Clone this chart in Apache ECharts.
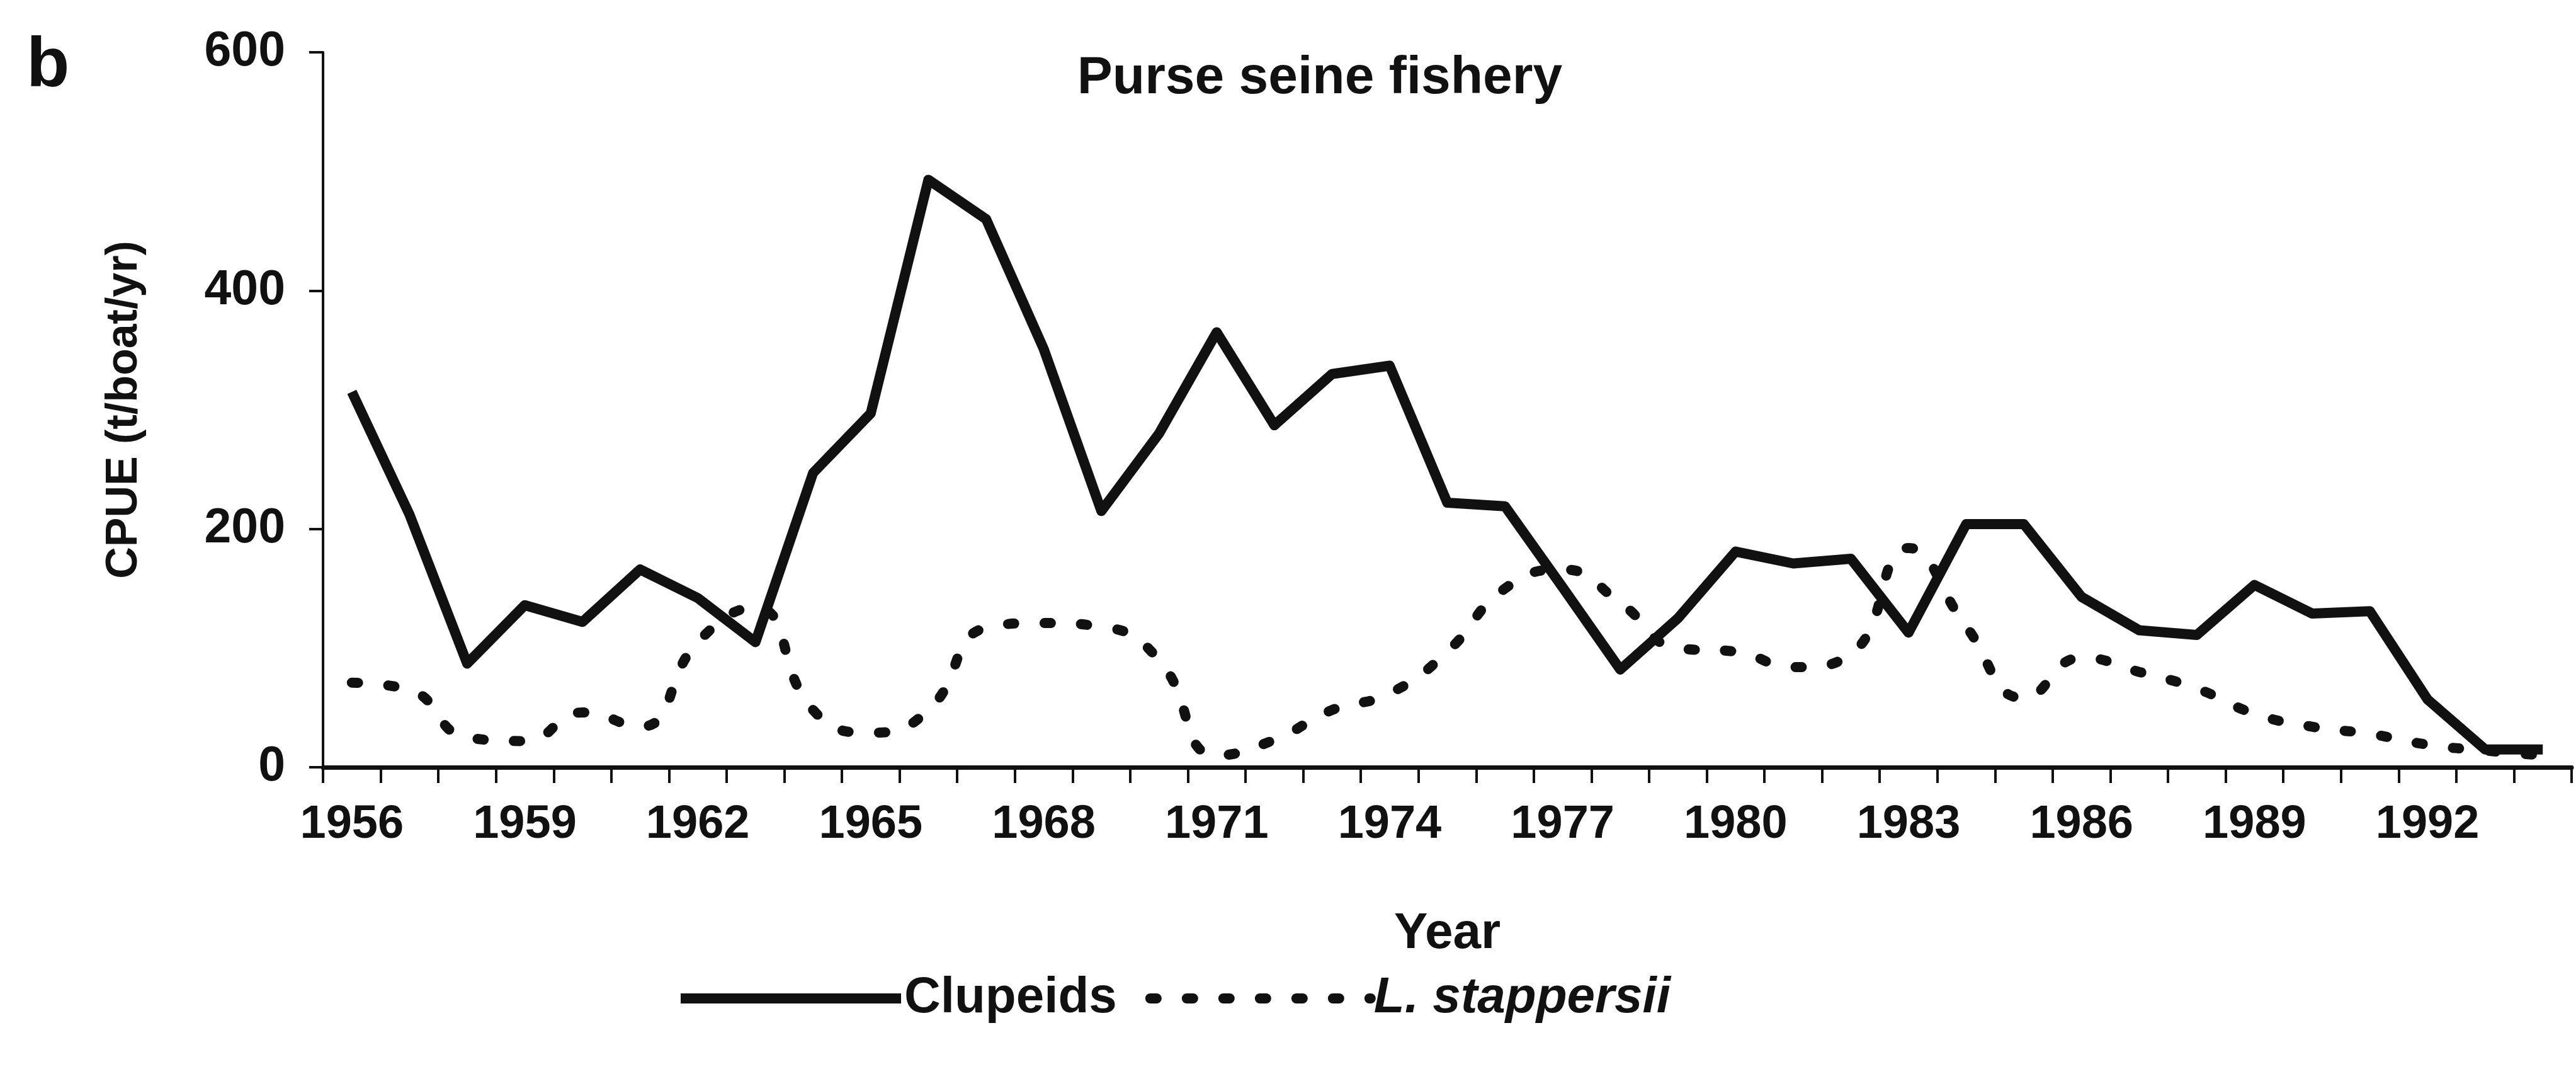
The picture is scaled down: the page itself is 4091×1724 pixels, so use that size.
<!DOCTYPE html>
<html>
<head>
<meta charset="utf-8">
<title>Purse seine fishery</title>
<script src="https://cdn.jsdelivr.net/npm/echarts@6/dist/echarts.min.js"></script>
<style>
  html, body { margin: 0; padding: 0; background: #fff; }
  #chart { width: 4091px; height: 1724px; }
</style>
</head>
<body>
<div id="chart"></div>
<script>
// years on the x axis (category, one per year)
var years = []
for (var y = 1956; y <= 1994; y++) years.push(String(y))

// CPUE (t/boat/yr)
var clupeids = [315, 212, 87, 136, 122, 166, 142, 105, 247, 297,
  493, 460, 351, 215, 280, 365, 287, 330, 337, 222,
  219, 151, 82, 125, 181, 171, 175, 113, 204, 204,
  143, 115, 111, 153, 129, 131, 57, 15, 15]
var stappersii = [71, 65, 25, 22, 46, 34, 105, 134, 48, 29,
  48, 117, 121, 118, 90, 10, 23, 48, 62, 97,
  150, 166, 138, 100, 97, 84, 95, 184, 118, 58,
  92, 80, 66, 45, 34, 28, 19, 14, 10]

var yTicks = [0, 200, 400, 600]

var font = "'Liberation Sans', Arial, sans-serif"
var ink = '#111'
var solidLine = { color: ink, width: 16, join: 'round' }
var dotLine = { color: ink, width: 16, type: [10, 48], cap: 'round' }

var chart = echarts.init(document.getElementById('chart'))

var option = {
  backgroundColor: '#fff',
  animation: false,
  textStyle: { fontFamily: font, color: ink },
  graphic: [
    { // panel letter
      type: 'text', left: 42, top: 50,
      style: { text: 'b', font: 'bold 112px ' + font, fill: ink }
    },
    { // title inside the plot
      type: 'text', x: 2096, y: 125,
      style: { text: 'Purse seine fishery', font: 'bold 84px ' + font, fill: ink, textAlign: 'center', textVerticalAlign: 'middle' }
    }
  ],
  grid: {
    left: 513,
    right: 7,
    top: 83,
    bottom: 506,
    containLabel: false
  },
  legend: {
    left: 1068,
    top: 1540,
    itemWidth: 350,
    itemHeight: 40,
    itemGap: 45,
    itemStyle: { opacity: 0 },
    textStyle: {
      fontFamily: font,
      fontSize: 80,
      fontWeight: 'bold',
      color: ink,
      rich: {
        it: { fontFamily: font, fontSize: 80, fontWeight: 'bold', fontStyle: 'italic', color: ink }
      }
    },
    formatter: function (name) {
      return name === 'L. stappersii' ? '{it|' + name + '}' : name
    },
    data: [
      { name: 'Clupeids', lineStyle: solidLine, itemStyle: { opacity: 0 } },
      { name: 'L. stappersii', lineStyle: dotLine, itemStyle: { opacity: 0 } }
    ]
  },
  xAxis: {
    type: 'category',
    data: years,
    boundaryGap: true,
    name: 'Year',
    nameLocation: 'middle',
    nameGap: 225,
    nameTextStyle: { fontFamily: font, fontSize: 80, fontWeight: 'bold', color: ink },
    axisLine: { show: true, lineStyle: { color: ink, width: 7 } },
    axisTick: { show: true, interval: 0, length: 25, lineStyle: { color: ink, width: 4 } },
    axisLabel: {
      interval: 2,
      margin: 55,
      fontFamily: font,
      fontSize: 74,
      fontWeight: 'bold',
      color: ink
    },
    splitLine: { show: false }
  },
  yAxis: {
    type: 'value',
    min: yTicks[0],
    max: yTicks[yTicks.length - 1],
    interval: 200,
    name: 'CPUE (t/boat/yr)',
    nameLocation: 'middle',
    nameGap: 280,
    nameRotate: 90,
    nameTextStyle: { fontFamily: font, fontSize: 70, fontWeight: 'bold', color: ink },
    axisLine: { show: true, lineStyle: { color: ink, width: 4 } },
    axisTick: { show: true, length: 22, lineStyle: { color: ink, width: 4 } },
    axisLabel: {
      margin: 60,
      fontFamily: font,
      fontSize: 77,
      fontWeight: 'bold',
      color: ink
    },
    splitLine: { show: false }
  },
  series: [
    {
      name: 'Clupeids',
      type: 'line',
      data: clupeids,
      showSymbol: false,
      symbol: 'none',
      lineStyle: solidLine,
      itemStyle: { color: ink }
    },
    {
      name: 'L. stappersii',
      type: 'line',
      data: stappersii,
      smooth: 0.5,
      showSymbol: false,
      symbol: 'none',
      lineStyle: dotLine,
      itemStyle: { color: ink }
    }
  ]
}

chart.setOption(option)
window.onresize = function () {
  chart.resize()
}
</script>
</body>
</html>
